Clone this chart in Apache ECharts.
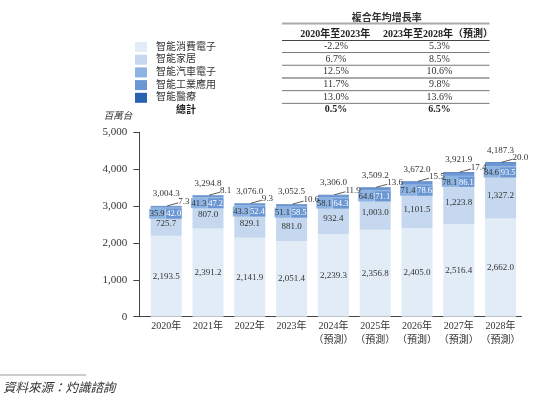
<!DOCTYPE html>
<html><head><meta charset="utf-8">
<script src="https://cdn.jsdelivr.net/npm/echarts@6/dist/echarts.min.js"></script>
<style>html,body{margin:0;padding:0;background:#fff}#chart{width:543px;height:405px}</style>
</head><body><div id="chart"></div>
<script>
const categories = ['2020年','2021年','2022年','2023年','2024年\n（預測）','2025年\n（預測）','2026年\n（預測）','2027年\n（預測）','2028年\n（預測）'];
const seriesNames = ['智能消費電子','智能家居','智能汽車電子','智能工業應用','智能醫療'];
const consumer = [2193.5, 2391.2, 2141.9, 2051.4, 2239.3, 2356.8, 2405.0, 2516.4, 2662.0];
const home = [725.7, 807.0, 829.1, 881.0, 932.4, 1003.0, 1101.5, 1223.8, 1327.2];
const auto = [35.9, 41.3, 43.3, 51.1, 58.1, 64.6, 71.4, 78.1, 84.6];
const industrial = [42.0, 47.2, 52.4, 58.5, 64.3, 71.1, 78.6, 86.1, 93.5];
const medical = [7.3, 8.1, 9.3, 10.6, 11.9, 13.6, 15.5, 17.4, 20.0];
const totals = [3004.3, 3294.8, 3076.0, 3052.5, 3306.0, 3509.2, 3672.0, 3921.9, 4187.3];
const cagrTitle = '複合年均增長率';
const cagrHeaders = ['2020年至2023年', '2023年至2028年（預測）'];
const cagrPast = ['-2.2%', '6.7%', '12.5%', '11.7%', '13.0%'];
const cagrFuture = ['5.3%', '8.5%', '10.6%', '9.8%', '13.6%'];
const totalRowName = '總計';
const cagrTotals = ['0.5%', '6.5%'];
const yUnit = '百萬台';
const sourceText = '資料來源：灼識諮詢';

const colors = ['#e2ecf7', '#c5d8ef', '#8db3e2', '#6a96d3', '#2862b0'];
const FF = "'Liberation Serif','Noto Sans CJK TC',serif";
const fmt = v => Number(v).toLocaleString('en-US', {minimumFractionDigits: 1, maximumFractionDigits: 1});

const stackTop = categories.map((c, i) => consumer[i] + home[i] + auto[i] + industrial[i] + medical[i]);

const chart = echarts.init(document.getElementById('chart'), null, {renderer: 'canvas'});

const baseLabel = {fontSize: 9, fontFamily: FF, color: '#333', formatter: p => fmt(p.value)};

// table graphics
const rowY = i => 46.2 + 12.7 * i;
const col1 = 336, col2 = 439.5;
const g = [];
g.push({type: 'text', x: 386.8, y: 17.5, style: {text: cagrTitle, fontSize: 10, fontWeight: 'bold', fontFamily: "'Noto Sans CJK TC',sans-serif", fill: '#333', align: 'center', verticalAlign: 'middle'}});
g.push({type: 'line', shape: {x1: 282, y1: 23.5, x2: 489.5, y2: 23.5}, style: {stroke: '#aaa', lineWidth: 2}});
g.push({type: 'text', x: 335.3, y: 34.3, style: {text: cagrHeaders[0], fontSize: 10, fontWeight: 'bold', fontFamily: FF, fill: '#222', align: 'center', verticalAlign: 'middle'}});
g.push({type: 'text', x: 438, y: 34.3, style: {text: cagrHeaders[1], fontSize: 10, fontWeight: 'bold', fontFamily: FF, fill: '#222', align: 'center', verticalAlign: 'middle'}});
g.push({type: 'line', shape: {x1: 282, y1: 40.5, x2: 489.5, y2: 40.5}, style: {stroke: '#444', lineWidth: 1}});
cagrPast.forEach((v, i) => {
  g.push({type: 'text', x: col1, y: rowY(i), style: {text: v, fontSize: 10, fontFamily: FF, fill: '#333', align: 'center', verticalAlign: 'middle'}});
  g.push({type: 'text', x: col2, y: rowY(i), style: {text: cagrFuture[i], fontSize: 10, fontFamily: FF, fill: '#333', align: 'center', verticalAlign: 'middle'}});
  const ly = rowY(i) + 6.35;
  const thick = i === 2;
  g.push({type: 'line', shape: {x1: 282, y1: ly, x2: 489.5, y2: ly}, style: {stroke: thick ? '#aaa' : '#555', lineWidth: thick ? 2 : 0.8}});
});
g.push({type: 'text', x: 186, y: rowY(5), style: {text: totalRowName, fontSize: 10, fontWeight: 'bold', fontFamily: "'Noto Sans CJK TC',sans-serif", fill: '#222', align: 'center', verticalAlign: 'middle'}});
g.push({type: 'text', x: col1, y: rowY(5), style: {text: cagrTotals[0], fontSize: 10, fontWeight: 'bold', fontFamily: FF, fill: '#222', align: 'center', verticalAlign: 'middle'}});
g.push({type: 'text', x: col2, y: rowY(5), style: {text: cagrTotals[1], fontSize: 10, fontWeight: 'bold', fontFamily: FF, fill: '#222', align: 'center', verticalAlign: 'middle'}});
// y unit
g.push({type: 'text', x: 118, y: 116.5, style: {text: yUnit, fontSize: 9.5, fontStyle: 'italic', fontFamily: FF, fill: '#333', align: 'center', verticalAlign: 'middle'}});
// axis corner extension
g.push({type: 'line', shape: {x1: 139, y1: 316.5, x2: 146, y2: 316.5}, style: {stroke: '#444', lineWidth: 1}});
// source
g.push({type: 'line', shape: {x1: 0, y1: 375, x2: 86, y2: 375}, style: {stroke: '#bbb', lineWidth: 1.5}});
g.push({type: 'text', x: 3, y: 387, style: {text: sourceText, fontSize: 12.5, fontStyle: 'italic', fontFamily: "'Noto Sans CJK TC',sans-serif", fill: '#333', align: 'left', verticalAlign: 'middle'}});

const option = {
  animation: false,
  color: colors,
  grid: {left: 145.3, right: 21.5, top: 132.3, bottom: 88.3, containLabel: false},
  legend: {
    data: seriesNames, orient: 'vertical', left: 135, top: 42, padding: 0,
    itemWidth: 12, itemHeight: 10, itemGap: 2.7, icon: 'rect',
    textStyle: {fontSize: 10, color: '#333', fontFamily: FF, padding: [0, 0, 0, 4], lineHeight: 10}
  },
  xAxis: {
    type: 'category', data: categories,
    axisTick: {show: false},
    axisLine: {lineStyle: {color: '#444', width: 1}},
    axisLabel: {fontSize: 10, lineHeight: 13.5, margin: 3, color: '#333', fontFamily: FF, interval: 0}
  },
  yAxis: {
    type: 'value', min: 0, max: 5000, interval: 1000, offset: 6,
    axisLine: {show: true, lineStyle: {color: '#444', width: 1}},
    axisTick: {show: true, length: 6, lineStyle: {color: '#444'}},
    splitLine: {show: false},
    axisLabel: {fontSize: 11, margin: 12, color: '#333', fontFamily: FF, formatter: v => v.toLocaleString('en-US')}
  },
  series: [
    {name: seriesNames[0], type: 'bar', stack: 'a', barWidth: 31, data: consumer,
     label: Object.assign({show: true, position: 'inside'}, baseLabel)},
    {name: seriesNames[1], type: 'bar', stack: 'a', barWidth: 31, data: home,
     label: Object.assign({show: true, position: 'inside', offset: [0, 1.5]}, baseLabel)},
    {name: seriesNames[2], type: 'bar', stack: 'a', barWidth: 31, data: auto,
     label: Object.assign({}, baseLabel, {show: true, position: ['0%', '0%'], align: 'left', verticalAlign: 'top', offset: [-1.5, 1],
       backgroundColor: colors[2], padding: [1, 0.5, 0, 0.5], lineHeight: 9, fontSize: 8.5})},
    {name: seriesNames[3], type: 'bar', stack: 'a', barWidth: 31, data: industrial,
     label: Object.assign({}, baseLabel, {show: true, position: ['100%', '100%'], align: 'right', verticalAlign: 'top', offset: [0, 1],
       backgroundColor: colors[3], padding: [1, 0.5, 0, 0.5], lineHeight: 9, fontSize: 8.5, color: '#fff'})},
    {name: seriesNames[4], type: 'bar', stack: 'a', barWidth: 31, data: medical},
    {type: 'custom', silent: true, z: 10,
     data: categories.map((c, i) => [i, stackTop[i], medical[i], totals[i]]),
     encode: {x: 0, y: 1},
     renderItem: (params, api) => {
       const p = api.coord([api.value(0), api.value(1)]);
       return {type: 'group', children: [
         {type: 'line', shape: {x1: p[0] + 1, y1: p[1], x2: p[0] + 12, y2: p[1] - 3}, style: {stroke: '#333', lineWidth: 0.8}},
         {type: 'text', x: p[0] + 12, y: p[1] - 4.5, style: {text: fmt(api.value(2)), fontSize: 9, fontFamily: FF, fill: '#333', align: 'left', verticalAlign: 'middle'}},
         {type: 'text', x: p[0], y: p[1] - 12, style: {text: fmt(api.value(3)), fontSize: 9, fontFamily: FF, fill: '#333', align: 'center', verticalAlign: 'middle'}}
       ]};
     }}
  ],
  graphic: g
};
chart.setOption(option);
</script></body></html>
